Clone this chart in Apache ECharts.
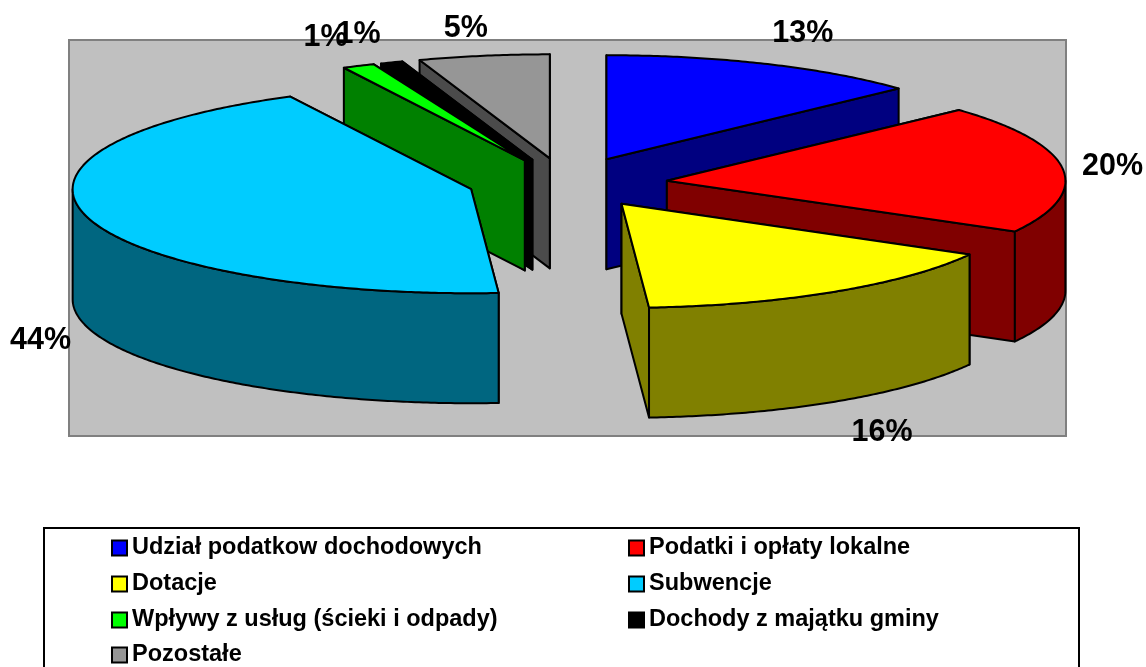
<!DOCTYPE html>
<html>
<head>
<meta charset="utf-8">
<style>html,body{margin:0;padding:0;background:#fff;overflow:hidden}#c{width:1146px;height:667px}</style>
<script src="https://cdn.jsdelivr.net/npm/echarts@6/dist/echarts.min.js"></script>
</head>
<body>
<div id="c"></div>
<script>
// Data (percent shares)
const categories = ['Udział podatkow dochodowych','Podatki i opłaty lokalne','Dotacje','Subwencje','Wpływy z usług (ścieki i odpady)','Dochody z majątku gminy','Pozostałe'];
const shares = [13.1, 20, 15.8, 43.6, 1.3, 0.9, 5.3];

// Style
const topColors  = ['#0000FF','#FF0000','#FFFF00','#00CCFF','#00FF00','#000000','#969696'];
const sideColors = ['#000080','#800000','#808000','#006680','#008000','#000000','#4B4B4B'];
const drawOrder  = [6,5,4,0,1,3,2];
const centerNudge = [[0,0],[-1,0],[1,-3],[6,-2],[3,1],[4,1],[2,1]];
const labelShift  = [[37,-30],[50,-2],[47,141],[-46.5,124],[-33,-28],[-33,-28],[-18,-27]];
const legendCols = [111, 628];
const legendRows = [536, 572, 608, 643];
const pie = {cx:565, cy:184, rx:398.5, ry:104, depth:110, explode:0.26};
const FONT = '"Liberation Sans", Arial, sans-serif';

const total = shares.reduce((a,b)=>a+b,0);
const starts = shares.map((_,i)=>shares.slice(0,i).reduce((a,b)=>a+b,0));

function renderSlice(idx){
  return function(params, api){
    const a0 = api.value(1)/total*Math.PI*2;
    const a1 = (api.value(1)+api.value(0))/total*Math.PI*2;
    const mid = (a0+a1)/2;
    const cx = pie.cx + pie.explode*pie.rx*Math.sin(mid) + centerNudge[idx][0];
    const cy = pie.cy - pie.explode*pie.ry*Math.cos(mid) + centerNudge[idx][1];
    const rim = (a,dz)=>[cx+pie.rx*Math.sin(a), cy-pie.ry*Math.cos(a)+(dz||0)];
    const arc = (s,e,dz)=>{
      const n = Math.max(2,Math.ceil(Math.abs(e-s)/0.01)); const out=[];
      for(let i=0;i<=n;i++) out.push(rim(s+(e-s)*i/n,dz));
      return out;
    };
    const d = pie.depth;
    const poly = (points,fill)=>({type:'polygon',shape:{points},style:{fill,stroke:'#000',lineWidth:2,lineJoin:'round'}});
    const wall = a=>poly([[cx,cy],rim(a),rim(a,d),[cx,cy+d]],sideColors[idx]);
    // the wall facing the viewer is painted last
    const children = Math.sin(mid)<0 ? [wall(a1),wall(a0)] : [wall(a0),wall(a1)];
    const lo = Math.max(a0,Math.PI/2), hi = Math.min(a1,Math.PI*1.5);
    if(lo<hi) children.push(poly(arc(lo,hi,0).concat(arc(hi,lo,d)),sideColors[idx]));
    children.push(poly([[cx,cy]].concat(arc(a0,a1,0)),topColors[idx]));
    const rm = rim(mid);
    children.push({type:'text',z2:100,style:{
      x:rm[0]+labelShift[idx][0], y:rm[1]+labelShift[idx][1],
      text:Math.round(api.value(0))+'%',
      font:'bold 30.5px '+FONT, fill:'#000', align:'center', verticalAlign:'middle'}});
    return {type:'group',children};
  };
}

const series = categories.map((name,i)=>({
  type:'custom', name, coordinateSystem:'none', silent:true, animation:false,
  z: 10+drawOrder.indexOf(i),
  itemStyle:{color:topColors[i]},
  data:[[shares[i],starts[i]]],
  renderItem:renderSlice(i)
}));

const legend = categories.map((name,i)=>({
  left:legendCols[i%2], top:legendRows[Math.floor(i/2)],
  padding:0, selectedMode:false, itemWidth:15, itemHeight:15,
  textStyle:{fontFamily:FONT,fontWeight:'bold',fontSize:23.5,color:'#000'},
  data:[{name,icon:'rect',itemStyle:{color:topColors[i],borderColor:'#000',borderWidth:2}}]
}));

const chart = echarts.init(document.getElementById('c'),null,{renderer:'canvas'});
chart.setOption({
  animation:false,
  backgroundColor:'#fff',
  graphic:[
    {type:'rect',z:0,silent:true,shape:{x:69,y:40,width:997,height:396},style:{fill:'#C0C0C0',stroke:'#808080',lineWidth:2}},
    {type:'rect',z:0,silent:true,shape:{x:44,y:528,width:1035,height:160},style:{fill:'#fff',stroke:'#000',lineWidth:2}}
  ],
  legend,
  series
});
</script>
</body>
</html>
